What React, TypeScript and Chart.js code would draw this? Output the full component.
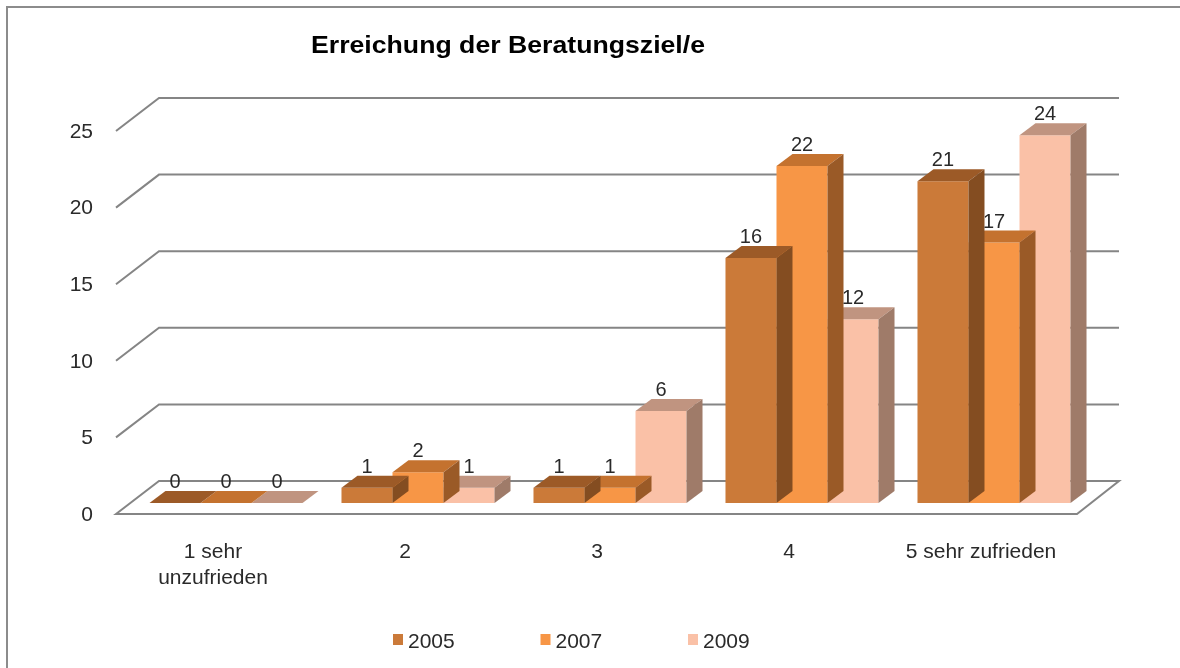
import React, { useEffect, useRef } from 'react';
import { Chart, registerables } from 'chart.js';

Chart.register(...registerables);

const TITLE = 'Erreichung der Beratungsziel/e';
const CATEGORIES: (string | string[])[] = [['1 sehr', 'unzufrieden'], '2', '3', '4', '5 sehr zufrieden'];
const SERIES_NAMES = ['2005', '2007', '2009'];
const VALUES_2005 = [0, 1, 1, 16, 21];
const VALUES_2007 = [0, 2, 1, 22, 17];
const VALUES_2009 = [0, 1, 6, 12, 24];
const Y_MIN = 0;
const Y_MAX = 25;
const Y_STEP = 5;

const FRONT_COLORS = ['#CB7A39', '#F79646', '#FAC1A7'];
const TOP_COLORS = ['#9C5A27', '#C4722F', '#C09480'];
const SIDE_COLORS = ['#844D21', '#9A5A27', '#9F7B69'];

const FONT = '"Liberation Sans", Arial, sans-serif';
const TEXT = '#2a2a2a';
const GRID = '#858585';

// 3D projection offsets (pixels)
const BAR_DX = 16;
const BAR_DY = -12;
const BACK_DX = 29;
const BACK_DY = -22;
const FRONT_DX = -14;
const FRONT_DY = 11;

const threeD = {
  id: 'threeD',
  beforeDraw(chart: any) {
    const ctx = chart.ctx;
    ctx.save();
    ctx.fillStyle = '#ffffff';
    ctx.fillRect(0, 0, chart.width, chart.height);
    ctx.strokeStyle = '#8c8c8c';
    ctx.lineWidth = 2;
    ctx.strokeRect(7, 7, chart.width + 20, chart.height + 20);
    ctx.restore();
  },
  beforeDatasetsDraw(chart: any) {
    const ctx = chart.ctx;
    const { left, right } = chart.chartArea;
    const ys = chart.scales.y;
    ctx.save();
    ctx.strokeStyle = GRID;
    ctx.lineWidth = 2;
    ctx.lineJoin = 'miter';
    ys.ticks.forEach((t: any) => {
      const y = ys.getPixelForValue(t.value);
      if (t.value === Y_MIN) {
        ctx.beginPath();
        ctx.moveTo(left + FRONT_DX, y + FRONT_DY);
        ctx.lineTo(left + BACK_DX, y + BACK_DY);
        ctx.lineTo(right + BACK_DX, y + BACK_DY);
        ctx.lineTo(right + FRONT_DX + 1, y + FRONT_DY);
        ctx.closePath();
        ctx.fillStyle = '#ffffff';
        ctx.fill();
        ctx.stroke();
      } else {
        ctx.beginPath();
        ctx.moveTo(left + FRONT_DX, y + FRONT_DY);
        ctx.lineTo(left + BACK_DX, y + BACK_DY);
        ctx.lineTo(right + BACK_DX, y + BACK_DY);
        ctx.stroke();
      }
    });
    ctx.restore();
  },
  afterDatasetDraw(chart: any, args: any) {
    const ctx = chart.ctx;
    const idx = args.index;
    ctx.save();
    args.meta.data.forEach((el: any) => {
      const p = el.getProps(['x', 'y', 'base', 'width'], true);
      const l = p.x - p.width / 2;
      const r = p.x + p.width / 2;
      ctx.beginPath();
      ctx.moveTo(l, p.y);
      ctx.lineTo(r, p.y);
      ctx.lineTo(r + BAR_DX, p.y + BAR_DY);
      ctx.lineTo(l + BAR_DX, p.y + BAR_DY);
      ctx.closePath();
      ctx.fillStyle = TOP_COLORS[idx];
      ctx.fill();
      ctx.beginPath();
      ctx.moveTo(r, p.y);
      ctx.lineTo(r + BAR_DX, p.y + BAR_DY);
      ctx.lineTo(r + BAR_DX, p.base + BAR_DY);
      ctx.lineTo(r, p.base);
      ctx.closePath();
      ctx.fillStyle = SIDE_COLORS[idx];
      ctx.fill();
    });
    ctx.restore();
  },
  afterDatasetsDraw(chart: any) {
    const ctx = chart.ctx;
    ctx.save();
    ctx.font = `20px ${FONT}`;
    ctx.fillStyle = TEXT;
    ctx.textAlign = 'center';
    ctx.textBaseline = 'alphabetic';
    chart.data.datasets.forEach((ds: any, i: number) => {
      const meta = chart.getDatasetMeta(i);
      meta.data.forEach((el: any, j: number) => {
        const p = el.getProps(['x', 'y'], true);
        ctx.fillText(String(ds.data[j]), p.x, p.y - 15);
      });
    });
    ctx.restore();
  },
  afterDraw(chart: any) {
    const ctx = chart.ctx;
    ctx.save();
    // title (slightly wide face, as in the reference)
    ctx.font = `bold 24px ${FONT}`;
    ctx.fillStyle = '#000000';
    ctx.textAlign = 'left';
    ctx.textBaseline = 'alphabetic';
    const w = ctx.measureText(TITLE).width;
    const sx = 394 / w;
    ctx.translate(311, 53);
    ctx.scale(sx, 1);
    ctx.fillText(TITLE, 0, 0);
    ctx.restore();
    // legend
    ctx.save();
    ctx.font = `21px ${FONT}`;
    ctx.textAlign = 'left';
    ctx.textBaseline = 'alphabetic';
    SERIES_NAMES.forEach((name, i) => {
      const x = 393 + i * 147.5;
      ctx.fillStyle = FRONT_COLORS[i];
      ctx.fillRect(x, 634, 10, 11);
      ctx.fillStyle = TEXT;
      ctx.fillText(name, x + 15, 648);
    });
    ctx.restore();
  },
};

export default function App() {
  const ref = useRef<HTMLCanvasElement | null>(null);
  useEffect(() => {
    if (!ref.current) return;
    const chart = new Chart(ref.current, {
      type: 'bar',
      data: {
        labels: CATEGORIES as any,
        datasets: [
          { label: SERIES_NAMES[0], data: VALUES_2005, backgroundColor: FRONT_COLORS[0], borderWidth: 0 },
          { label: SERIES_NAMES[1], data: VALUES_2007, backgroundColor: FRONT_COLORS[1], borderWidth: 0 },
          { label: SERIES_NAMES[2], data: VALUES_2009, backgroundColor: FRONT_COLORS[2], borderWidth: 0 },
        ],
      },
      options: {
        responsive: false,
        animation: false,
        events: [],
        layout: { padding: { left: 0, right: 90, top: 120, bottom: 45 } },
        datasets: { bar: { categoryPercentage: 0.797, barPercentage: 1 } } as any,
        plugins: {
          legend: { display: false },
          title: { display: false },
          tooltip: { enabled: false },
        },
        scales: {
          x: {
            grid: { display: false, drawTicks: false },
            border: { display: false },
            ticks: {
              font: { family: FONT, size: 21, lineHeight: 1.24 },
              color: TEXT,
              padding: 36,
              labelOffset: -13,
              maxRotation: 0,
              autoSkip: false,
            },
            afterFit: (s: any) => {
              s.height = 120;
            },
          },
          y: {
            min: Y_MIN,
            max: Y_MAX,
            grid: { display: false, drawTicks: false },
            border: { display: false },
            ticks: {
              stepSize: Y_STEP,
              font: { family: FONT, size: 21 },
              color: TEXT,
              padding: 37,
              labelOffset: 12,
            },
            afterFit: (s: any) => {
              s.width = 130;
            },
          },
        },
      },
      plugins: [threeD],
    });
    return () => chart.destroy();
  }, []);
  return (
    <div style={{ position: 'fixed', left: 0, top: 0, width: 1180, height: 668, background: '#fff' }}>
      <canvas ref={ref} width={1180} height={668} style={{ display: 'block' }} />
    </div>
  );
}
